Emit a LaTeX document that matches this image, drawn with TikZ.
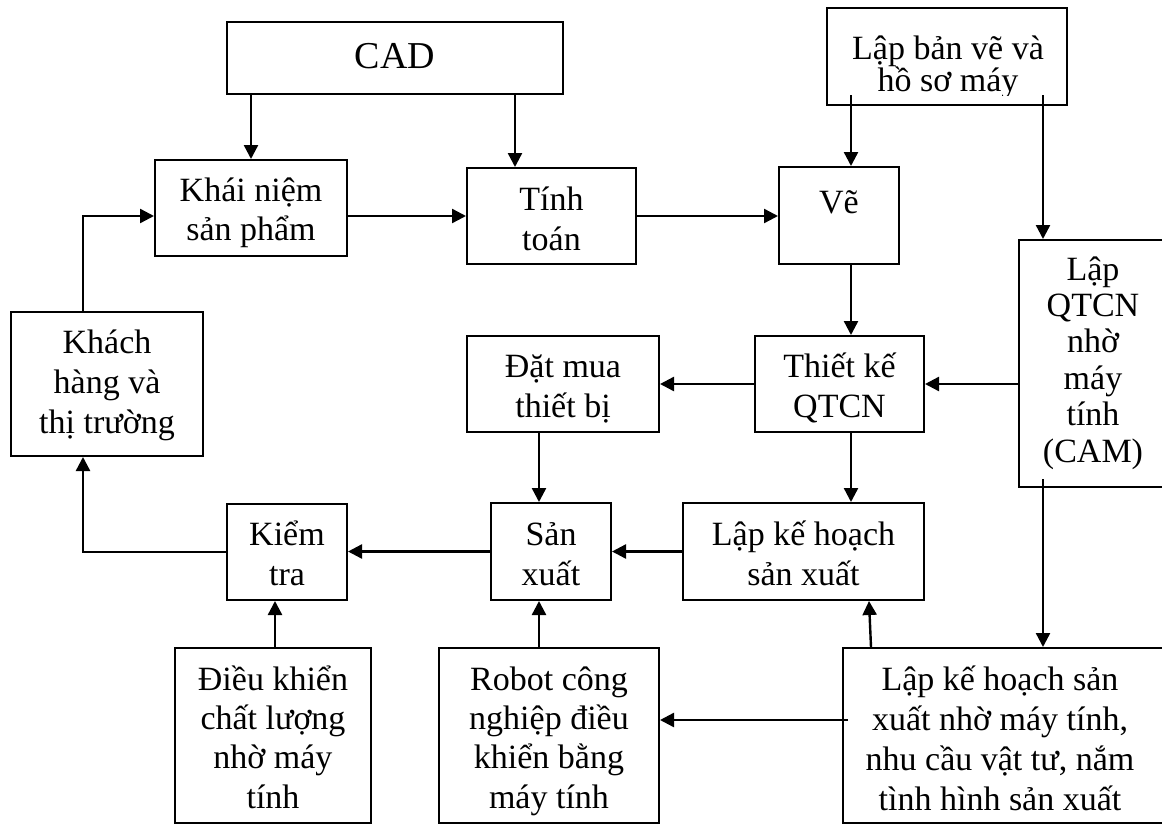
\documentclass[tikz,border=0pt]{standalone}
\usepackage{fontspec}
\setmainfont{Liberation Serif}
\usetikzlibrary{arrows.meta,calc}
\begin{document}
\begin{tikzpicture}[x=1pt,y=-1pt,
  line skip/.store in=\boxlineskip, line skip=39.3pt,
  textblock/.style={inner sep=0pt,align=center,
    font=\fontsize{34}{\boxlineskip}\selectfont},
  % place the last baseline of a text block: height above it, fixed depth below
  lastbase/.style={text depth=10pt,text height=#1},
  box/.style={textblock,draw,line width=2pt},
  flow/.style={line width=2.4pt,-{Triangle[length=14pt,width=14pt]}}]
\useasboundingbox (0,0) rectangle (1162,825);

% --- boxes ---
\node[box,minimum width=336pt,minimum height=72pt,lastbase=30pt,
      font=\fontsize{38}{44}\selectfont] (cad) at (395,58) {CAD};
\node[draw,line width=2pt,minimum width=240pt,minimum height=97pt] (lbv) at (947,56.5) {};
\begin{scope}
  \clip (827,8) rectangle (1067,95);
  \node[inner sep=0pt,font=\fontsize{34}{39}\selectfont,anchor=base] (lbv1) at (948,59) {Lập bản vẽ và};
  \node[inner sep=0pt,font=\fontsize{34}{39}\selectfont,anchor=base] (lbv2) at (948,91) {hồ sơ máy};
\end{scope}
\node[box,minimum width=192pt,minimum height=96pt,lastbase=75.4pt] (kn) at (251,208) {Khái niệm\\sản phẩm};
\node[box,minimum width=169pt,minimum height=96pt,lastbase=78pt] (tt) at (551.5,216) {Tính\\toán};
\node[box,minimum width=120pt,minimum height=97pt,lastbase=5pt] (ve) at (839,215.5) {Vẽ};
\node[box,minimum width=148pt,minimum height=247pt,line skip=36.4pt,lastbase=207pt] (cam) at (1093,363.5)
      {Lập\\QTCN\\nhờ\\máy\\tính\\(CAM)};
\node[box,minimum width=192pt,minimum height=144pt,line skip=40pt,lastbase=108pt] (kh) at (107,384)
      {Khách\\hàng và\\thị trường};
\node[box,minimum width=192pt,minimum height=96pt,lastbase=76pt] (dm) at (563,384) {Đặt mua\\thiết bị};
\node[box,minimum width=169pt,minimum height=96pt,lastbase=76pt] (tk) at (839.5,384) {Thiết kế\\QTCN};
\node[box,minimum width=120pt,minimum height=96pt,lastbase=76pt] (kt) at (287,552) {Kiểm\\tra};
\node[box,minimum width=120pt,minimum height=97pt,lastbase=77pt] (sx) at (551,551.5) {Sản\\xuất};
\node[box,minimum width=241pt,minimum height=97pt,lastbase=77pt] (lkh) at (803.5,551.5) {Lập kế hoạch\\sản xuất};
\node[box,minimum width=196pt,minimum height=175pt,lastbase=155pt] (dk) at (273,735.5)
      {Điều khiển\\chất lượng\\nhờ máy\\tính};
\node[box,minimum width=220pt,minimum height=175pt,lastbase=155pt] (rb) at (549,735.5)
      {Robot công\\nghiệp điều\\khiển bằng\\máy tính};
\node[draw,line width=2pt,minimum width=327pt,minimum height=175pt] (lkhmt) at (1006.5,735.5) {};
\node[textblock,line skip=40pt,lastbase=159pt] (plantext) at (1000,735.5)
      {Lập kế hoạch sản\\xuất nhờ máy tính,\\nhu cầu vật tư, nắm\\tình hình sản xuất};

% --- columns and rows used by the connectors ---
\coordinate (xcad) at (515,0);
\coordinate (xve)  at (851,0);
\coordinate (xcam) at (1043,0);
\coordinate (xsx)  at (539,0);
\coordinate (xkt)  at (275,0);
\coordinate (xkh)  at (83,0);
\coordinate (lbvout) at (0,95);
\coordinate (camout) at (0,479);
\coordinate (planout) at (848,720);

% --- connectors ---
\draw[flow] (kn.north |- cad.south) -- (kn.north);
\draw[flow] (xcad |- cad.south) -- (xcad |- tt.north);
\draw[flow] (xve |- lbvout) -- (xve |- ve.north);
\draw[flow] (xcam |- lbvout) -- (xcam |- cam.north);
\draw[flow] (kn.east |- tt.west) -- (tt.west);
\draw[flow] (tt.east) -- (tt.east -| ve.west);
\draw[flow] (xve |- ve.south) -- (xve |- tk.north);
\draw[flow] (cam.west |- tk.east) -- (tk.east);
\draw[flow] (tk.west) -- (dm.east);
\draw[flow] (xve |- tk.south) -- (xve |- lkh.north);
\draw[flow] (xsx |- dm.south) -- (xsx |- sx.north);
\draw[flow] (lkh.west) -- (lkh.west -| sx.east);
\draw[flow] (sx.west) -- (sx.west -| kt.east);
\draw[flow] (kt.west) -| (xkh |- kh.south);
\draw[flow] (xkh |- kh.north) |- (kn.west |- tt.west);
\draw[flow] (xkt |- dk.north) -- (xkt |- kt.south);
\draw[flow] (xsx |- rb.north) -- (xsx |- sx.south);
\draw[flow] (planout) -- (planout -| rb.east);
\draw[flow] (xcam |- camout) -- (xcam |- lkhmt.north);
\draw[flow] ($(lkhmt.north west)+(29,0)$) -- ($(lkh.south)+(65.5,0)$);
\end{tikzpicture}
\end{document}
